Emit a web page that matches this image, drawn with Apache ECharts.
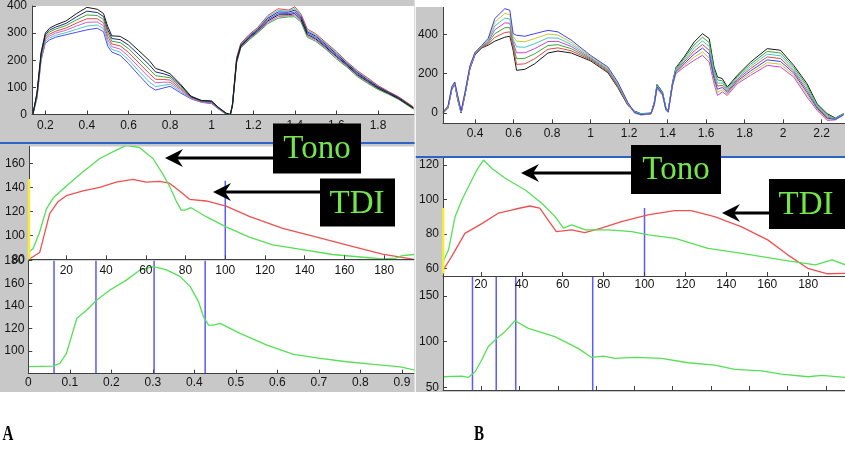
<!DOCTYPE html>
<html><head><meta charset="utf-8">
<script src="https://cdn.jsdelivr.net/npm/echarts@6/dist/echarts.min.js"></script>
<style>html,body{margin:0;padding:0;background:#fff}#c{width:845px;height:452px}</style>
</head><body><div id="c"></div>
<script>
// ---------- Panel A top: pressure waveforms ----------
const TL_x = [0.14,0.16,0.18,0.2,0.22,0.25,0.3,0.35,0.4,0.45,0.48,0.5,0.52,0.56,0.6,0.65,0.7,0.73,0.77,0.8,0.85,0.9,0.95,1.0,1.03,1.07,1.09,1.1,1.12,1.14,1.18,1.22,1.27,1.32,1.37,1.4,1.43,1.46,1.5,1.55,1.6,1.65,1.7,1.75,1.8,1.85,1.9,1.97];
const TL_c0 = [0,60,200,262,275,285,294,303,312,318,305,252,230,218,188,145,104,90,98,104,80,58,45,40,22,0,0,35,200,253,285,310,350,372,372,378,355,300,284,252,218,185,151,125,100,80,60,24];
const TL_c1 = [0,63,205,268,282,292,302,314,326,330,316,264,240,230,202,160,120,103,108,112,85,60,46,42,23,1,0,38,207,259,292,317,360,384,381,391,365,310,293,261,227,192,158,132,105,83,63,27];
const TL_c2 = [0,67,210,275,289,300,311,326,340,341,327,276,250,241,215,175,136,117,119,119,91,61,47,43,24,2,0,32,193,248,278,303,340,361,364,366,345,290,275,244,210,178,144,118,95,77,57,21];
const TL_c3 = [0,70,215,281,296,307,319,337,353,353,338,288,260,253,229,190,151,130,129,127,96,63,48,45,25,2,0,40,210,262,295,320,365,390,385,397,370,315,298,265,232,195,162,135,107,85,65,28];
const TL_c4 = [0,73,220,287,304,315,328,349,367,365,350,301,270,265,243,205,167,143,139,135,101,65,50,47,26,3,0,30,190,245,275,300,335,355,360,360,340,285,270,240,205,175,140,115,92,75,55,20];
const TL_c5 = [0,77,225,294,311,322,336,360,381,376,361,313,280,276,256,220,183,157,150,142,107,66,51,48,27,4,0,37,203,256,288,313,355,378,377,385,360,305,289,257,223,188,155,128,102,82,62,25];
const TL_c6 = [0,80,230,300,318,330,345,372,395,388,372,325,290,288,270,235,199,170,160,150,112,68,52,50,28,5,0,33,197,251,282,307,345,367,368,372,350,295,279,248,214,182,147,122,97,78,58,23];
const TL_xticks = [0.2,0.4,0.6,0.8,1,1.2,1.4,1.6,1.8];
const TL_yticks = [0,100,200,300,400];

// ---------- Panel B top: pressure waveforms ----------
const TR_x = [0.235,0.26,0.28,0.295,0.31,0.328,0.348,0.374,0.4,0.434,0.469,0.503,0.555,0.581,0.598,0.616,0.659,0.71,0.779,0.831,0.9,1.0,1.09,1.141,1.193,1.228,1.262,1.314,1.331,1.345,1.357,1.374,1.391,1.403,1.426,1.443,1.486,1.538,1.581,1.616,1.641,1.659,1.684,1.71,1.762,1.831,1.917,1.986,2.055,2.124,2.176,2.228,2.271,2.314];
const TR_c0 = [0,25,120,148,70,0,90,225,295,330,345,365,385,390,319,217,222,250,305,315,305,265,205,130,40,10,-3,0,55,145,130,105,28,12,158,230,285,361,403,378,234,183,175,132,192,259,327,319,242,149,47,-3,-25,-3];
const TR_c1 = [1,27,123,150,73,2,93,228,297,332,351,384,409,412,333,247,250,276,324,331,316,270,210,135,43,5,-7,-3,48,135,120,98,22,8,149,215,260,315,348,319,192,137,141,111,171,226,285,277,213,115,31,-20,-30,-7];
const TR_c2 = [3,28,125,151,77,3,95,230,299,334,357,403,433,434,347,276,278,301,343,347,327,274,215,139,45,8,-4,-1,53,142,127,103,26,11,155,225,277,346,385,358,220,168,164,125,185,248,313,305,232,138,42,-9,-27,-4];
const TR_c3 = [4,30,128,153,80,5,98,233,302,336,363,423,458,456,361,306,306,327,363,364,338,279,220,144,48,0,-10,-5,40,125,110,90,15,3,140,200,234,268,293,259,149,90,107,90,149,192,242,234,183,81,14,-37,-35,-10];
const TR_c4 = [5,32,130,155,83,7,100,235,304,338,368,442,482,478,375,336,334,352,382,380,348,284,224,149,50,7,-5,-2,50,138,123,100,24,9,152,220,268,330,366,338,206,152,152,118,178,237,299,291,222,126,36,-14,-28,-5];
const TR_c5 = [7,33,133,156,87,8,103,238,306,340,374,461,506,500,389,365,362,378,401,396,359,288,229,153,53,2,-9,-4,43,128,113,93,17,5,143,205,243,284,311,279,163,106,118,97,156,203,256,248,193,92,20,-31,-33,-9];
const TR_c6 = [8,35,135,158,90,10,105,240,308,342,380,480,530,522,403,395,390,403,420,412,370,293,234,158,55,3,-8,-3,45,132,117,95,19,6,146,210,251,299,330,299,177,121,130,104,163,214,270,262,203,104,25,-26,-32,-8];
const TR_xticks = [0.4,0.6,0.8,1,1.2,1.4,1.6,1.8,2,2.2];
const TR_yticks = [0,200,400];

// ---------- Panel A middle: Tono vs TDI ----------
const ML_tono_x = [1.2,3.3,6.6,10,13.3,20,28.4,36.8,45.1,50.2,56.9,63.6,68.6,71.9,75.3,77.8,79.5,82.8,90.4,100.4,112.1,123.9,137.3,154,170.8,179.1,185.8,189.2,195];
const ML_tono_y = [86,89,103,122,131,141,153,164,171,175,173,164,151,141,128.5,121,121,123,115.5,107,98.5,92,88.5,84,81.5,80.3,81,83,84];
const ML_tdi_x = [1.2,6.6,11.6,15.8,20,28.4,36.8,45.1,53.5,60.2,66.9,71.9,77,82,90.4,100.4,112.1,128.9,145.6,162.4,179.1,195];
const ML_tdi_y = [80,85.7,118,128,133,137,140,144.3,146.6,144.3,145,143.4,137,130,128.6,124.3,115.7,105.7,98.6,91.4,84.3,80];
const ML_xticks = [20,40,60,80,100,120,140,160,180];
const ML_yticks = [80,100,120,140,160];
const ML_mark_x = 100, ML_mark_y = [80,145.5];
const ML_yellow_x = 1.2, ML_yellow_y = [80,147];

// ---------- Panel B middle: Tono vs TDI ----------
const MR_tono_x = [1.6,4.2,7.4,10.7,13.9,18,21.3,25.4,31.9,41.7,49.8,56.3,60.4,64.5,71,82.4,93.8,102,115,131,147.6,167,183.5,191.7,198];
const MR_tono_y = [63.9,70.7,90,99.7,107.4,117,122.9,118,112.3,105.5,97.8,90,83.3,85.2,82.3,82.3,81.3,79.4,77.4,71.6,68.7,64.9,62,64.9,62];
const MR_tdi_x = [1.6,5.7,12.2,20.3,28.5,36.6,43.9,48.8,52.9,56.9,64.3,70.8,78.9,88.7,101.7,114.7,122.8,134.2,147.2,160.2,170,179.8,189.5,198];
const MR_tdi_y = [59,66.8,80.3,85.8,92,94.3,96.2,94.9,88,81.3,82.3,80.7,83.3,87.1,91,93.5,93.5,90,84.2,76.5,67.8,60,56.8,57];
const MR_xticks = [20,40,60,80,100,120,140,160,180,200];
const MR_yticks = [60,80,100,120];
const MR_mark_x = 100, MR_mark_y = [55.5,95];
const MR_yellow_x = 1.6, MR_yellow_y = [57,95];

// ---------- Panel A bottom: Tono vs time ----------
const BL_x = [0,0.06,0.076,0.092,0.117,0.141,0.165,0.197,0.237,0.269,0.301,0.333,0.366,0.39,0.41,0.422,0.434,0.446,0.462,0.51,0.575,0.639,0.703,0.767,0.832,0.896,0.932];
const BL_y = [86.1,86.7,89,98,129,136.4,145.2,154.1,163,171.8,174.8,171.8,165.9,157,143.7,130.4,123,123,124.5,115.7,105.3,97,93.5,90.5,88.2,86,83];
const BL_marks = [0.062,0.163,0.303,0.426];
const BL_xticks = [0,0.1,0.2,0.3,0.4,0.5,0.6,0.7,0.8,0.9];
const BL_yticks = [100,120,140,160,180];

// ---------- Panel B bottom: Tono vs time ----------
const BR_x = [0,0.049,0.066,0.084,0.101,0.118,0.14,0.162,0.188,0.223,0.292,0.353,0.388,0.419,0.449,0.501,0.571,0.64,0.71,0.762,0.832,0.884,0.954,0.989,1.05];
const BR_y = [61.7,62.4,61,67.2,80,94.5,103.6,111,123,114.6,105.5,92.7,82.8,84.3,81.8,82.8,81.8,77,74.5,69.7,68.2,64.6,61.7,63.1,61];
const BR_marks = [0.077,0.139,0.190,0.391];
const BR_xticks = [0.1,0.2,0.3,0.4,0.5,0.6,0.7,0.8,0.9,1.0];
const BR_yticks = [50,100,150];

// ---------- styles ----------
const TL_colors = ['#4c4cff','#4cc8c8','#d060d0','#e04848','#3aa83a','#1c2a80','#1a1a1a'];
const TR_colors = ['#1a1a1a','#e04848','#3aa83a','#cc44cc','#44c8c8','#c8c830','#4040ff'];
const GREEN = '#55e055', RED = '#f05050', MARKBLUE = '#5a5aff', YELLOW = '#f2ec3a';
const AXC = '#404040', LBL = '#151515', FONT = 'Liberation Sans';

const zip = (xs, ys) => xs.map((x, i) => [x, ys[i]]);

function axis(dim, gi, min, max, ticks, margin, showLabels) {
  return {
    type: 'value', gridIndex: gi, min: min, max: max, z: 5,
    position: dim === 'x' ? 'bottom' : 'left',
    axisLine: {show: true, onZero: false, lineStyle: {color: AXC, width: 1}},
    axisTick: {show: true, inside: true, length: 4, customValues: ticks, lineStyle: {color: AXC}},
    axisLabel: {show: showLabels !== false, customValues: ticks, margin: margin, fontSize: 12, color: LBL, fontFamily: FONT,
      hideOverlap: false, showMinLabel: true, showMaxLabel: true},
    splitLine: {show: false}
  };
}

const grids = [
  {left: 32, top: 3, width: 382, height: 111.5},
  {left: 443, top: 6.7, width: 402, height: 116.6},
  {left: 29, top: 146.5, width: 385, height: 112.8},
  {left: 443, top: 158, width: 402, height: 118},
  {left: 28.3, top: 260.7, width: 385.7, height: 112.9},
  {left: 443, top: 276, width: 402, height: 114}
].map(g => Object.assign({show: true, backgroundColor: '#ffffff', borderWidth: 0, z: 1}, g));

const xAxes = [
  axis('x', 0, 0.136, 1.973, TL_xticks, 5),
  axis('x', 1, 0.234, 2.321, TR_xticks, 4),
  axis('x', 2, 1.2, 195, ML_xticks, 5),
  axis('x', 3, 1.5, 198, MR_xticks, 3),
  axis('x', 4, 0, 0.929, BL_xticks, 3),
  axis('x', 5, 0, 1.05, BR_xticks, 3, false)
];
const yAxes = [
  axis('y', 0, 0, 400, TL_yticks, 5),
  axis('y', 1, -52, 540, TR_yticks, 5),
  axis('y', 2, 80, 174, ML_yticks, 4),
  axis('y', 3, 55.5, 124.1, MR_yticks, 4),
  axis('y', 4, 80, 180, BL_yticks, 4),
  axis('y', 5, 47.2, 171.9, BR_yticks, 4)
];

function line(gi, data, color, width, z) {
  return {type: 'line', xAxisIndex: gi, yAxisIndex: gi, data: data, showSymbol: false, silent: true,
    lineStyle: {color: color, width: width}, itemStyle: {color: color}, z: z || 2, animation: false};
}

const series = [];
[TL_c0, TL_c1, TL_c2, TL_c3, TL_c4, TL_c5, TL_c6].forEach((c, i) => series.push(line(0, zip(TL_x, c), TL_colors[i], 1)));
[TR_c0, TR_c1, TR_c2, TR_c3, TR_c4, TR_c5, TR_c6].forEach((c, i) => series.push(line(1, zip(TR_x, c), TR_colors[i], 1)));

// middle A
series.push(line(2, [[ML_yellow_x, ML_yellow_y[0]], [ML_yellow_x, ML_yellow_y[1]]], YELLOW, 2.5, 6));
series.push(line(2, [[ML_mark_x, ML_mark_y[0]], [ML_mark_x, ML_mark_y[1]]], MARKBLUE, 1.5));
series.push(line(2, zip(ML_tdi_x, ML_tdi_y), RED, 1.3, 3));
series.push(line(2, zip(ML_tono_x, ML_tono_y), GREEN, 1.3, 3));
// middle B
series.push(line(3, [[MR_yellow_x, MR_yellow_y[0]], [MR_yellow_x, MR_yellow_y[1]]], YELLOW, 2.5, 6));
series.push(line(3, [[MR_mark_x, MR_mark_y[0]], [MR_mark_x, MR_mark_y[1]]], MARKBLUE, 1.5));
series.push(line(3, zip(MR_tdi_x, MR_tdi_y), RED, 1.3, 3));
series.push(line(3, zip(MR_tono_x, MR_tono_y), GREEN, 1.3, 3));
// bottom A
BL_marks.forEach(m => series.push(line(4, [[m, 80], [m, 180]], MARKBLUE, 1.5)));
series.push(line(4, zip(BL_x, BL_y), GREEN, 1.3, 3));
// bottom B
BR_marks.forEach(m => series.push(line(5, [[m, 47.2], [m, 171.9]], MARKBLUE, 1.5)));
series.push(line(5, zip(BR_x, BR_y), GREEN, 1.3, 3));

// ---------- annotations ----------
function box(x, y, w, h, label, tx, ty) {
  return [
    {type: 'rect', z: 100, shape: {x: x, y: y, width: w, height: h}, style: {fill: '#000'}},
    {type: 'text', z: 101, x: tx, y: ty, style: {text: label, fill: '#72e64a', font: '33px "Liberation Serif"', align: 'center', verticalAlign: 'middle'}}
  ];
}
function arrow(x1, x2, y) {
  return [
    {type: 'line', z: 100, shape: {x1: x1 + 12, y1: y, x2: x2, y2: y}, style: {stroke: '#000', lineWidth: 3}},
    {type: 'polygon', z: 100, shape: {points: [[x1, y], [x1 + 18, y - 9], [x1 + 12, y], [x1 + 18, y + 9]]}, style: {fill: '#000'}}
  ];
}
function panelLabel(t, x, y) {
  return {type: 'text', z: 101, x: x, y: y, scaleX: 0.72,
    style: {text: t, fill: '#000', font: 'bold 21px "Liberation Serif"', align: 'center', verticalAlign: 'middle'}};
}
const graphics = [
  {type: 'rect', z: 50, shape: {x: 0, y: 392, width: 845, height: 60}, style: {fill: '#fff'}},
  {type: 'rect', z: 50, shape: {x: 415, y: 0, width: 430, height: 7}, style: {fill: '#fff'}},
  {type: 'rect', z: 50, shape: {x: 414.6, y: 0, width: 1.2, height: 392}, style: {fill: '#fff'}},
  {type: 'rect', z: 50, shape: {x: 0, y: 142, width: 414.6, height: 2}, style: {fill: '#2d62c8'}},
  {type: 'rect', z: 50, shape: {x: 415.8, y: 156, width: 430, height: 2}, style: {fill: '#2d62c8'}},
  ...arrow(165, 273, 158),
  ...box(273, 123.5, 88, 50, 'Tono', 317, 149),
  ...arrow(213, 320, 192),
  ...box(320, 178.5, 75, 48, 'TDI', 357, 204),
  ...arrow(521, 631, 173),
  ...box(631, 145, 90, 49, 'Tono', 676, 170),
  ...arrow(722, 769, 213),
  ...box(769, 179, 80, 50, 'TDI', 806, 205),
  panelLabel('A', 8, 435),
  panelLabel('B', 479, 435)
];

const chart = echarts.init(document.getElementById('c'), null, {renderer: 'canvas'});
chart.setOption({
  backgroundColor: '#c8c8c8',
  animation: false,
  grid: grids,
  xAxis: xAxes,
  yAxis: yAxes,
  series: series,
  graphic: {elements: graphics}
});
</script></body></html>
